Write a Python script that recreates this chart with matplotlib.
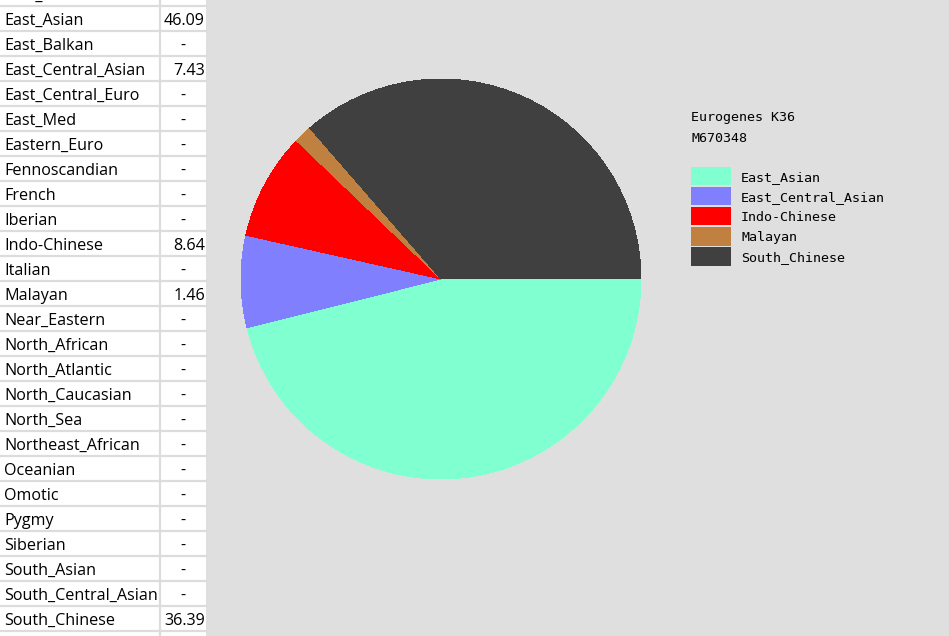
import matplotlib
matplotlib.use("Agg")
import matplotlib.pyplot as plt
from matplotlib.patches import Patch, Rectangle

# table on the left (Eurogenes K36 components)
pops = ['East_African', 'East_Asian', 'East_Balkan', 'East_Central_Asian', 'East_Central_Euro',
        'East_Med', 'Eastern_Euro', 'Fennoscandian', 'French', 'Iberian', 'Indo-Chinese',
        'Italian', 'Malayan', 'Near_Eastern', 'North_African', 'North_Atlantic',
        'North_Caucasian', 'North_Sea', 'Northeast_African', 'Oceanian', 'Omotic', 'Pygmy',
        'Siberian', 'South_Asian', 'South_Central_Asian', 'South_Chinese', '']
pop_values = ['-', '46.09', '-', '7.43', '-', '-', '-', '-', '-', '-', '8.64', '-', '1.46',
              '-', '-', '-', '-', '-', '-', '-', '-', '-', '-', '-', '-', '36.39', '']

# pie data
labels = ['East_Asian', 'East_Central_Asian', 'Indo-Chinese', 'Malayan', 'South_Chinese']
values = [46.09, 7.43, 8.64, 1.46, 36.39]
colors = ['#80ffd0', '#8080ff', '#ff0000', '#c08040', '#404040']

title_lines = ['Eurogenes K36', 'M670348']

W, H = 949, 636
bg = '#dfdfdf'
grid = '#dcdcdc'

fig = plt.figure(figsize=(W / 100, H / 100), dpi=100, facecolor=bg)

# background axes in pixel coordinates
ax_bg = fig.add_axes([0, 0, 1, 1])
ax_bg.set_xlim(0, W)
ax_bg.set_ylim(H, 0)
ax_bg.axis('off')

table_w = 206
col_x = 160
row_h = 25
first_top = -19

ax_bg.add_patch(Rectangle((0, 0), table_w, H, facecolor='white', edgecolor='none'))
for i, (name, val) in enumerate(zip(pops, pop_values)):
    top = first_top + i * row_h
    ax_bg.axhline(top + row_h - 0.5, xmin=0, xmax=table_w / W, color=grid, lw=1.6)
    yc = top + row_h / 2 + 2.5
    ax_bg.text(4, yc, name, ha='left', va='center', fontsize=11.6, family='Open Sans',
               color='black')
    if val == '-':
        ax_bg.text(183, yc, val, ha='center', va='center', fontsize=11.6, family='Open Sans')
    elif val:
        ax_bg.text(205, yc, val, ha='right', va='center', fontsize=11.6, family='Open Sans')
ax_bg.axvline(col_x, color=grid, lw=1.6)

# pie chart
cx, cy, r = 441, 279, 200
ax = fig.add_axes([(cx - r) / W, (H - cy - r) / H, 2 * r / W, 2 * r / H])
ax.pie(values, colors=colors, startangle=0, counterclock=False,
       wedgeprops={'linewidth': 0, 'antialiased': False})
ax.set_xlim(-1, 1)
ax.set_ylim(-1, 1)
ax.axis('off')

# legend
mono = 'DejaVu Sans Mono'
for k, line in enumerate(title_lines):
    fig.text(691 / W, 1 - (118 + 20 * k) / H, line, ha='left', va='center',
             family=mono, fontsize=9.6, color='black')

handles = [Patch(facecolor=c, edgecolor='none', label=l) for c, l in zip(colors, labels)]
fig.legend(handles=handles, loc='upper left', bbox_to_anchor=(691 / W, 1 - 167 / H),
           frameon=False, borderpad=0, borderaxespad=0, prop={'family': mono, 'size': 9.6},
           handlelength=3.0, handleheight=1.75, handletextpad=0.75, labelspacing=0.12)

fig.savefig('out.png', dpi=100, facecolor=bg)
